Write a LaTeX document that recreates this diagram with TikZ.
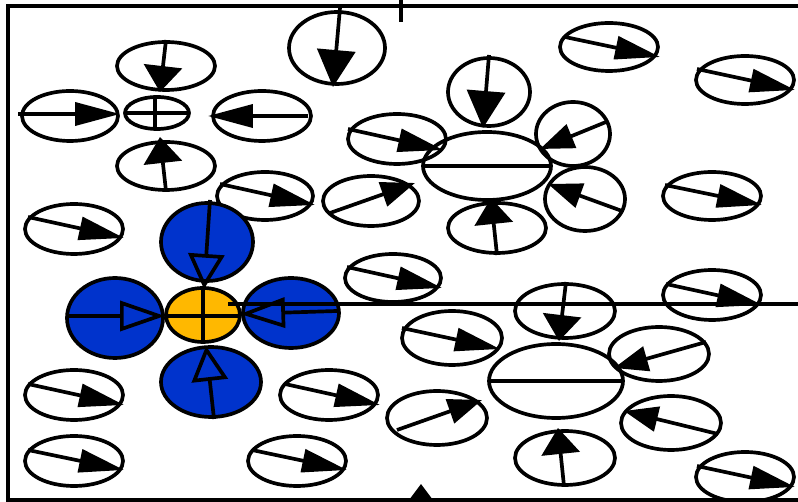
\documentclass[tikz,border=0pt]{standalone}
\usepackage{xcolor}
\usepackage{tikz}
\usetikzlibrary{arrows.meta}
\definecolor{cellblue}{HTML}{0033CC}
\definecolor{coreyellow}{HTML}{FFB800}

\begin{document}
\begin{tikzpicture}[x=0.02cm, y=-0.02cm,
  cell/.style={draw=black, line width=2.1pt},
  bluecell/.style={cell, fill=cellblue},
  corecell/.style={cell, fill=coreyellow},
  bar/.style={line width=2.1pt},
  hhead/.style={bar, -{Triangle[length=0.9cm, width=0.46cm]}},
  vhead/.style={bar, -{Triangle[length=0.52cm, width=0.76cm]}},
  bighead/.style={bar, -{Triangle[length=0.74cm, width=0.76cm]}},
  dhead/.style={bar, -{Triangle[length=0.68cm, width=0.5cm]}},
  openh/.style={bar, -{Triangle[open, length=0.9cm, width=0.6cm]}},
  openv/.style={bar, -{Triangle[open, length=0.7cm, width=0.72cm]}}
]
\clip (0,0) rectangle (798,502);
\fill[white] (0,0) rectangle (798,502);

% frame and stray marks
\draw[bar] (8,6) rectangle (812,500);
\draw[bar] (401,0) -- (401,22);
\draw[vhead] (421,530) -- (421,484);

% top left cluster
\draw[cell] (157,113) ellipse [x radius=32, y radius=16];
\draw[bar] (125,113) -- (189,113);
\draw[bar] (155,97) -- (155,129);
\draw[cell] (166,66) ellipse [x radius=49, y radius=24];
\draw[vhead] (166,40) -- (160,92);
\draw[cell] (166,166) ellipse [x radius=49, y radius=24];
\draw[vhead] (166,191) -- (160,137);
\draw[cell] (70,116) ellipse [x radius=48, y radius=25];
\draw[hhead] (18,114) -- (120,114);
\draw[cell] (262,116) ellipse [x radius=49, y radius=25];
\draw[hhead] (308,116) -- (208,116);

\draw[cell] (337,48) ellipse [x radius=48, y radius=36];
\draw[bighead] (340,8) -- (333,87);

% top right
\draw[cell] (609,47) ellipse [x radius=49, y radius=24];
\draw[hhead] (565,37) -- (660,57);
\draw[cell] (745,80) ellipse [x radius=49, y radius=24];
\draw[hhead] (697,69) -- (795,90);
\draw[cell] (712,196) ellipse [x radius=49, y radius=24];
\draw[hhead] (665,185) -- (762,205);

% upper sink
\draw[cell] (487,166) ellipse [x radius=64, y radius=34];
\draw[bar] (424,166) -- (550,166);
\draw[cell] (489,92) ellipse [x radius=41, y radius=34];
\draw[bighead] (489,55) -- (483,128);
\draw[cell] (497,228) ellipse [x radius=49, y radius=25];
\draw[vhead] (497,255) -- (491,198);
\draw[cell] (573,134) ellipse [x radius=37, y radius=32];
\draw[dhead] (606,122) -- (540,149);
\draw[cell] (585,199) ellipse [x radius=40, y radius=32];
\draw[dhead] (622,211) -- (548,184);
\draw[cell] (397,139) ellipse [x radius=49, y radius=25];
\draw[hhead] (348,129) -- (443,150);
\draw[cell] (371,201) ellipse [x radius=48, y radius=25];
\draw[dhead] (330,213) -- (415,183);

% middle band
\draw[cell] (265,196) ellipse [x radius=48, y radius=24];
\draw[hhead] (220,184) -- (315,205);
\draw[cell] (74,229) ellipse [x radius=49, y radius=25];
\draw[hhead] (28,217) -- (124,238);
\draw[cell] (393,278) ellipse [x radius=48, y radius=24];
\draw[hhead] (347,267) -- (442,288);

% blue source
\draw[bluecell] (207,242) ellipse [x radius=46, y radius=39];
\draw[bluecell] (115,318) ellipse [x radius=48, y radius=40];
\draw[bluecell] (291,313) ellipse [x radius=48, y radius=35];
\draw[bluecell] (211,382) ellipse [x radius=50, y radius=35];
\draw[corecell] (203,315) ellipse [x radius=37, y radius=27];
\draw[bar] (167,316) -- (240,316);
\draw[bar] (203,286) -- (203,343);
\draw[bar] (228,304) -- (800,304);
\draw[openv] (210,200) -- (204,289);
\draw[openh] (67,316) -- (165,316);
\draw[openh] (337,311) -- (240,314);
\draw[openv] (214,419) -- (206,346);

% lower left
\draw[cell] (74,395) ellipse [x radius=49, y radius=25];
\draw[hhead] (28,384) -- (124,405);
\draw[cell] (74,461) ellipse [x radius=49, y radius=25];
\draw[hhead] (28,450) -- (124,470);
\draw[cell] (329,395) ellipse [x radius=49, y radius=25];
\draw[hhead] (285,384) -- (380,405);
\draw[cell] (297,461) ellipse [x radius=49, y radius=25];
\draw[hhead] (252,450) -- (347,470);

% lower sink
\draw[cell] (556,381) ellipse [x radius=67, y radius=37];
\draw[bar] (490,381) -- (621,381);
\draw[cell] (565,311) ellipse [x radius=50, y radius=27];
\draw[vhead] (566,282) -- (559,341);
\draw[cell] (565,458) ellipse [x radius=50, y radius=27];
\draw[vhead] (564,486) -- (558,428);
\draw[cell] (452,338) ellipse [x radius=50, y radius=27];
\draw[hhead] (402,328) -- (500,349);
\draw[cell] (437,418) ellipse [x radius=50, y radius=27];
\draw[dhead] (397,430) -- (482,400);
\draw[cell] (659,354) ellipse [x radius=50, y radius=27];
\draw[dhead] (706,342) -- (614,368);
\draw[cell] (671,423) ellipse [x radius=50, y radius=27];
\draw[dhead] (718,434) -- (624,411);

% lower right
\draw[cell] (712,295) ellipse [x radius=49, y radius=25];
\draw[hhead] (666,284) -- (762,305);
\draw[cell] (745,477) ellipse [x radius=49, y radius=25];
\draw[hhead] (697,466) -- (795,487);

\end{tikzpicture}
\end{document}
